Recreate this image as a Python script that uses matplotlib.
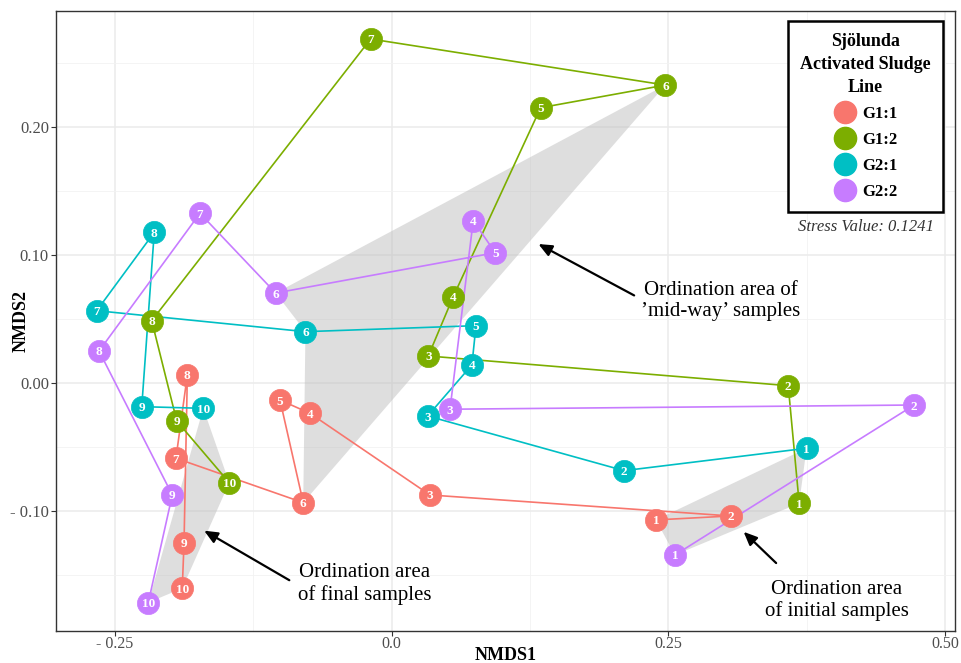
import matplotlib
matplotlib.use("Agg")
import matplotlib.pyplot as plt
from matplotlib.lines import Line2D

plt.rcParams["font.family"] = ["Liberation Serif", "DejaVu Serif"]

# ---------------- data ----------------
groups = ["G1:1", "G1:2", "G2:1", "G2:2"]
colors = ["#F8766D", "#7CAE00", "#00BFC4", "#C77CFF"]
sample_ids = [1, 2, 3, 4, 5, 6, 7, 8, 9, 10]

g11_x = [0.2388, 0.3062, 0.0346, -0.0738, -0.1009, -0.0799, -0.1949, -0.1846, -0.1876, -0.1892]
g11_y = [-0.1070, -0.1039, -0.0875, -0.0237, -0.0133, -0.0935, -0.0588, 0.0063, -0.1248, -0.1604]

g12_x = [0.3682, 0.3583, 0.0331, 0.0556, 0.1346, 0.2473, -0.0190, -0.2168, -0.1942, -0.1467]
g12_y = [-0.0940, -0.0021, 0.0211, 0.0674, 0.2151, 0.2328, 0.2688, 0.0487, -0.0297, -0.0779]

g21_x = [0.3749, 0.2100, 0.0325, 0.0725, 0.0762, -0.0779, -0.2665, -0.2145, -0.2258, -0.1702]
g21_y = [-0.0510, -0.0685, -0.0258, 0.0141, 0.0448, 0.0401, 0.0565, 0.1177, -0.0185, -0.0198]

g22_x = [0.2559, 0.4721, 0.0527, 0.0737, 0.0936, -0.1048, -0.1732, -0.2644, -0.1982, -0.2199]
g22_y = [-0.1344, -0.0172, -0.0205, 0.1268, 0.1018, 0.0703, 0.1326, 0.0250, -0.0875, -0.1716]

series_x = [g11_x, g12_x, g21_x, g22_x]
series_y = [g11_y, g12_y, g21_y, g22_y]

# ordination areas: (sample number, order of groups around the polygon)
area_initial = (1, ["G1:1", "G2:1", "G1:2", "G2:2"])
area_midway = (6, ["G1:1", "G2:1", "G2:2", "G1:2"])
area_final = (10, ["G2:1", "G1:2", "G1:1", "G2:2"])

x_ticks = [-0.25, 0.0, 0.25, 0.50]
x_tick_labels = ["- 0.25", "0.0", "0.25", "0.50"]
y_ticks = [-0.10, 0.0, 0.10, 0.20]
y_tick_labels = ["- 0.10", "0.00", "0.10", "0.20"]

legend_title = "Sjölunda\nActivated Sludge\nLine"
stress_text = "Stress Value: 0.1241"

# ---------------- figure ----------------
fig = plt.figure(figsize=(9.61, 6.63), dpi=100)
ax_left, ax_bottom, ax_w, ax_h = 0.0581, 0.0486, 0.9357, 0.9351
ax = fig.add_axes([ax_left, ax_bottom, ax_w, ax_h])

# limits like ggplot (5% expansion)
all_x = sum(series_x, [])
all_y = sum(series_y, [])
rx = max(all_x) - min(all_x)
ry = max(all_y) - min(all_y)
ax.set_xlim(min(all_x) - 0.05 * rx, max(all_x) + 0.05 * rx)
ax.set_ylim(min(all_y) - 0.05 * ry, max(all_y) + 0.05 * ry)

# grid
ax.set_xticks(x_ticks)
ax.set_xticklabels(x_tick_labels)
ax.set_yticks(y_ticks)
ax.set_yticklabels(y_tick_labels)
ax.set_xticks([-0.125, 0.125, 0.375], minor=True)
ax.set_yticks([-0.15, -0.05, 0.05, 0.15, 0.25], minor=True)
ax.grid(True, which="major", color="#EBEBEB", lw=1.1, zorder=0)
ax.grid(True, which="minor", color="#F2F2F2", lw=0.6, zorder=0)
ax.set_axisbelow(True)
ax.tick_params(which="minor", length=0)
ax.tick_params(which="major", length=3.5, width=0.8, color="#333333",
               labelsize=12, labelcolor="#4D4D4D", pad=1.5)
ax.tick_params(axis="x", labelsize=11.5, pad=0.5)
for s in ax.spines.values():
    s.set_color("#333333")
    s.set_linewidth(1.0)

# polygons
for sample, order in [area_initial, area_midway, area_final]:
    k = sample_ids.index(sample)
    px = [series_x[groups.index(g)][k] for g in order]
    py = [series_y[groups.index(g)][k] for g in order]
    ax.fill(px, py, color="#BEBEBE", alpha=0.5, lw=0, zorder=1)

# trajectories
for xs, ys, c in zip(series_x, series_y, colors):
    ax.plot(xs, ys, color=c, lw=1.2, zorder=2)

# points with labels
for xs, ys, c in zip(series_x, series_y, colors):
    ax.plot(xs, ys, ls="none", marker="o", ms=16, mfc=c, mec=c, mew=0.5, zorder=3)
    for sid, x, y in zip(sample_ids, xs, ys):
        ax.text(x, y, str(sid), color="white", fontsize=9.5, fontweight="bold",
                ha="center", va="center_baseline", zorder=4)

# annotations
arrow_kw = dict(arrowstyle="-|>,head_length=0.8,head_width=0.35", color="black", lw=1.6)
ax.annotate("", xy=(0.1304, 0.1096), xytext=(0.2213, 0.0674), arrowprops=arrow_kw, zorder=5)
ax.text(0.2975, 0.0640, "Ordination area of\n\u2019mid-way\u2019 samples", fontsize=15,
        ha="center", va="center", linespacing=1.2, zorder=5)

ax.annotate("", xy=(-0.1716, -0.1143), xytext=(-0.0903, -0.1552), arrowprops=arrow_kw, zorder=5)
ax.text(-0.0241, -0.1570, "Ordination area\nof final samples", fontsize=15,
        ha="center", va="center", linespacing=1.2, zorder=5)

ax.annotate("", xy=(0.3162, -0.1148), xytext=(0.3492, -0.1422), arrowprops=arrow_kw, zorder=5)
ax.text(0.402, -0.1700, "Ordination area\nof initial samples", fontsize=15,
        ha="center", va="center", linespacing=1.2, zorder=5)

# axis titles placed in the figure margins (tight like the reference)
fig.text(ax_left + ax_w / 2, 3 / 663, "NMDS1", fontsize=13, fontweight="bold",
         ha="center", va="baseline")
fig.text(21 / 961, ax_bottom + ax_h / 2, "NMDS2", fontsize=13, fontweight="bold",
         rotation=90, ha="center", va="center")

# legend
handles = [Line2D([], [], ls="none", marker="o", ms=16, mfc=c, mec=c) for c in colors]
leg = ax.legend(handles, groups, title=legend_title, loc="upper right",
                bbox_to_anchor=(0.9866, 0.9835), borderaxespad=0, frameon=True,
                fancybox=False, edgecolor="black", framealpha=1,
                prop={"weight": "bold", "size": 12},
                title_fontproperties={"weight": "bold", "size": 13},
                handletextpad=0.35, labelspacing=0.6, borderpad=0.72,
                handlelength=1.3, alignment="center")
leg.get_frame().set_linewidth(1.8)
leg.get_title().set_multialignment("center")
leg.get_title().set_linespacing(1.47)
leg.set_zorder(10)

fig.text(866 / 961, 1 - 227 / 663, stress_text, fontsize=12, style="italic",
         color="#333333", ha="center", va="center")

fig.savefig("out.png", dpi=100)
